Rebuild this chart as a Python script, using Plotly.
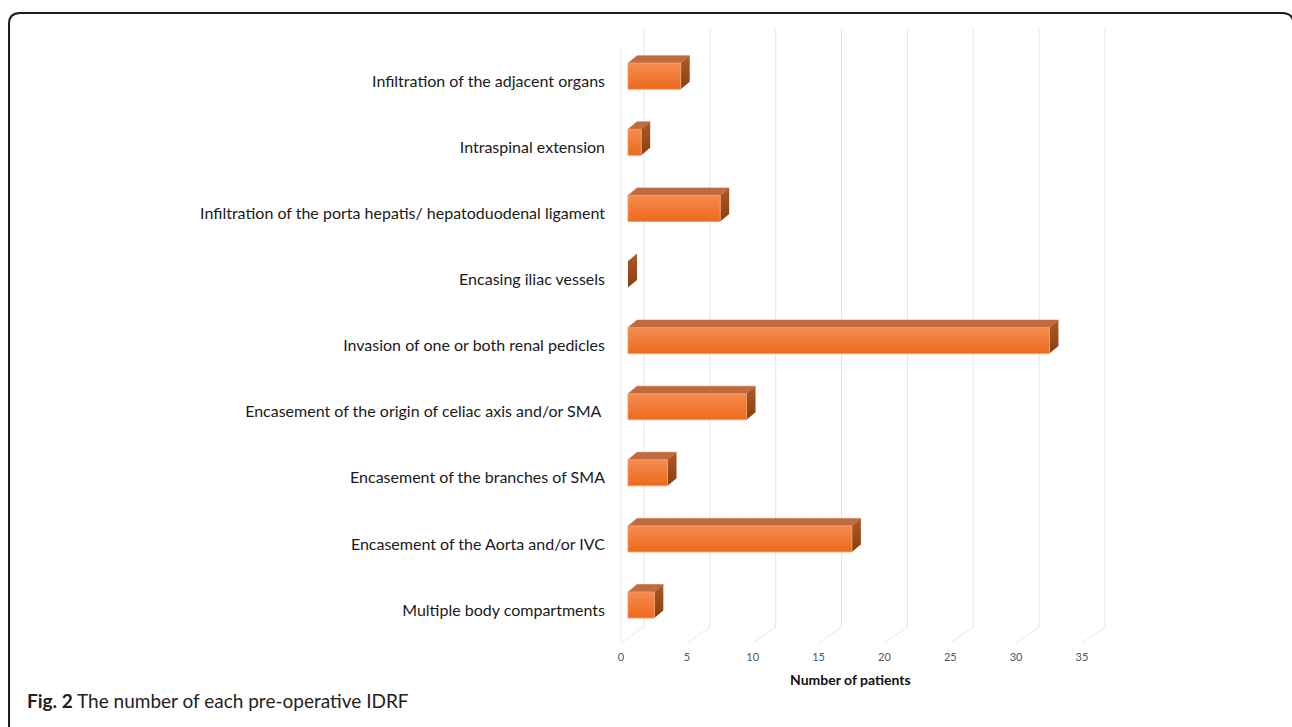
import plotly.graph_objects as go

# ---- data -------------------------------------------------------------
categories = [
    "Multiple body compartments",
    "Encasement of the Aorta and/or IVC",
    "Encasement of the branches of SMA",
    "Encasement of the origin of celiac axis and/or SMA ",
    "Invasion of one or both renal pedicles",
    "Encasing iliac vessels",
    "Infiltration of the porta hepatis/ hepatoduodenal ligament",
    "Intraspinal extension",
    "Infiltration of the adjacent organs",
]
patients = [2, 17, 3, 9, 32, 0, 7, 1, 4]
x_ticks = [0, 5, 10, 15, 20, 25, 30, 35]

# ---- page geometry (pixels) --------------------------------------------
W, H = 1292, 727
PX_X = 13.17          # pixels per patient
PX_Y = 66.1           # pixels per category
X_ZERO = 621          # pixel of value 0 on the front plane
Y_CAT0 = 610          # pixel of the first category on the front plane
PLOT_L, PLOT_R = 606, 1140
PLOT_T, PLOT_B = 20, 643

x_range = [(PLOT_L - X_ZERO) / PX_X, (PLOT_R - X_ZERO) / PX_X]
y_range = [(Y_CAT0 - PLOT_B) / PX_Y, (Y_CAT0 - PLOT_T) / PX_Y]

# perspective offsets in data units
FLOOR_DX, FLOOR_DY = 23 / PX_X, 16 / PX_Y     # depth of the floor
WALL_TOP_BACK = (Y_CAT0 - 29) / PX_Y
WALL_TOP_FRONT = (Y_CAT0 - 47) / PX_Y
BAR_X0 = 7 / PX_X                              # bar front face starts here
BAR_LIFT = 5 / PX_Y                            # bar front face raised by depth
BAR_HALF = 13 / PX_Y
BAR_DX, BAR_DY = 9 / PX_X, 7.5 / PX_Y          # bar depth

GRID = "#e1e5ec"

fig = go.Figure()

# ---- 3-D box walls / gridlines -------------------------------------------
shapes = []
for t in x_ticks:
    xb = t + FLOOR_DX
    yb = -0.5 + FLOOR_DY
    shapes.append(dict(type="line", xref="x", yref="y", x0=xb, x1=xb, y0=yb,
                       y1=WALL_TOP_BACK, line=dict(color=GRID, width=1), layer="below"))
    shapes.append(dict(type="line", xref="x", yref="y", x0=t, x1=xb, y0=-0.5,
                       y1=yb, line=dict(color=GRID, width=1), layer="below"))
shapes.append(dict(type="line", xref="x", yref="y", x0=0, x1=0, y0=-0.5,
                   y1=WALL_TOP_FRONT, line=dict(color=GRID, width=1), layer="below"))

# ---- 3-D bars --------------------------------------------------------------
for i, v in enumerate(patients):
    yc = i + BAR_LIFT
    y0, y1 = yc - BAR_HALF, yc + BAR_HALF
    x0, x1 = BAR_X0, BAR_X0 + v
    # top face
    fig.add_trace(go.Scatter(
        x=[x0, x1, x1 + BAR_DX, x0 + BAR_DX, x0],
        y=[y1, y1, y1 + BAR_DY, y1 + BAR_DY, y1],
        fill="toself", mode="lines", line=dict(width=0.6, color="#c46f44"),
        fillcolor="#c06a40", hoverinfo="skip", showlegend=False))
    # right side face
    fig.add_trace(go.Scatter(
        x=[x1, x1 + BAR_DX, x1 + BAR_DX, x1, x1],
        y=[y0, y0 + BAR_DY, y1 + BAR_DY, y1, y0],
        fill="toself", mode="lines", line=dict(width=0),
        fillgradient=dict(type="vertical", start=y0, stop=y1 + BAR_DY,
                          colorscale=[[0, "#8a3f10"], [1, "#ad5a26"]]),
        hoverinfo="skip", showlegend=False))
    # front face
    if v > 0:
        fig.add_trace(go.Scatter(
            x=[x0, x1, x1, x0, x0],
            y=[y0, y0, y1, y1, y0],
            fill="toself", mode="lines", line=dict(width=1, color="#f79a66"),
            fillgradient=dict(type="vertical", start=y0, stop=y1,
                              colorscale=[[0, "#ec6a1c"], [1, "#f58c50"]]),
            name=categories[i], hovertemplate="%{fullData.name}: " + str(v) + "<extra></extra>",
            showlegend=False))

# ---- frame around the figure ------------------------------------------------
shapes.append(dict(
    type="path", xref="paper", yref="paper",
    path=f"M {9/W} 0 L {9/W} {1-24/H} Q {9/W} {1-13/H} {20/W} {1-13/H} "
         f"L {1282/W} {1-13/H} Q {1291/W} {1-13/H} {1293/W} {1-20/H}",
    line=dict(color="#1e1e1e", width=2)))

fig.update_layout(
    width=W, height=H,
    margin=dict(l=0, r=0, t=0, b=0),
    paper_bgcolor="white", plot_bgcolor="white",
    shapes=shapes,
    xaxis=dict(domain=[PLOT_L / W, PLOT_R / W], range=x_range,
               tickvals=x_ticks, ticktext=[str(t) for t in x_ticks],
               showgrid=False, zeroline=False, showline=False, ticks="",
               ticklabelstandoff=6,
               tickfont=dict(family="Lato", size=11, color="#4a5568")),
    yaxis=dict(domain=[1 - PLOT_B / H, 1 - PLOT_T / H], range=y_range,
               tickvals=list(range(len(categories))), ticktext=categories,
               showgrid=False, zeroline=False, showline=False, ticks="",
               tickfont=dict(family="Lato", size=16, color="#1a1a1a")),
    annotations=[
        dict(text="<b>Number of patients</b>", xref="paper", yref="paper",
             x=851 / W, y=1 - 679 / H, xanchor="center", yanchor="middle",
             showarrow=False,
             font=dict(family="Lato", size=14, color="#111111")),
        dict(text="<b>Fig. 2</b> The number of each pre-operative IDRF",
             xref="paper", yref="paper", x=25 / W, y=1 - 700 / H,
             xanchor="left", yanchor="middle", showarrow=False,
             font=dict(family="Lato", size=19, color="#222222")),
    ],
)

fig.write_html("out.html")
